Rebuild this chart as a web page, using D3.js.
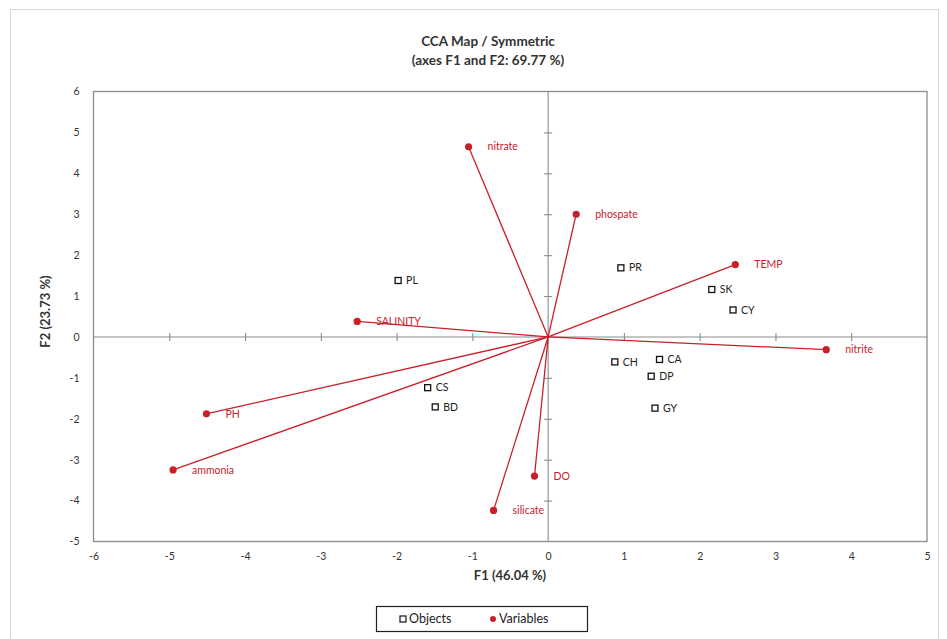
<!DOCTYPE html>
<html>
<head>
<meta charset="utf-8">
<script src="https://cdn.jsdelivr.net/npm/d3@7"></script>
<style>
  html, body { margin: 0; padding: 0; background: #fff; }
  svg { display: block; font-family: Lato, "Open Sans", "Liberation Sans", sans-serif; }
</style>
</head>
<body>
<svg id="chart" width="947" height="639"></svg>
<script>
// Observations (sites) on the first two CCA axes
const objectNames = ["PL", "PR", "SK", "CY", "CH", "CA", "DP", "GY", "CS", "BD"];
const objectF1 = [-1.98, 0.96, 2.16, 2.44, 0.88, 1.47, 1.36, 1.41, -1.59, -1.49];
const objectF2 = [1.38, 1.69, 1.16, 0.66, -0.61, -0.55, -0.96, -1.74, -1.24, -1.71];

// Environmental variables (drawn as vectors from the origin)
const variableNames = ["nitrate", "phospate", "TEMP", "SALINITY", "nitrite", "PH", "ammonia", "DO", "silicate"];
const variableF1 = [-1.05, 0.37, 2.47, -2.52, 3.67, -4.51, -4.95, -0.18, -0.72];
const variableF2 = [4.65, 3.00, 1.77, 0.38, -0.31, -1.88, -3.25, -3.40, -4.24];

const xTicks = [-6, -5, -4, -3, -2, -1, 0, 1, 2, 3, 4, 5];
const yTicks = [-5, -4, -3, -2, -1, 0, 1, 2, 3, 4, 5, 6];

const titleLines = ["CCA Map / Symmetric", "(axes F1 and  F2: 69.77 %)"];
const xTitle = "F1 (46.04 %)";
const yTitle = "F2 (23.73 %)";

const red = "#c8202a";
const axisGray = "#8c8c8c";

const svg = d3.select("#chart");

// outer chart frame
svg.append("rect")
  .attr("x", 10.5).attr("y", 9.5).attr("width", 928).attr("height", 640)
  .attr("fill", "none").attr("stroke", "#d9d9d9").attr("stroke-width", 1);

const plot = { left: 93.5, right: 927, top: 91.5, bottom: 541.5 };

const x = d3.scaleLinear().domain([-6, 5]).range([plot.left, plot.right]);
const y = d3.scaleLinear().domain([-5, 6]).range([plot.bottom, plot.top]);

// plot frame
svg.append("rect")
  .attr("x", plot.left).attr("y", plot.top)
  .attr("width", plot.right - plot.left).attr("height", plot.bottom - plot.top)
  .attr("fill", "none").attr("stroke", axisGray).attr("stroke-width", 1.3);

// tick labels on the frame (axis lines hidden, labels only); plain hyphen for negatives
const plainFormat = d => String(d);
const xAxis = svg.append("g")
  .attr("transform", `translate(0,${plot.bottom})`)
  .call(d3.axisBottom(x).tickValues(xTicks).tickSize(0).tickPadding(11).tickFormat(plainFormat));
const yAxis = svg.append("g")
  .attr("transform", `translate(${plot.left},0)`)
  .call(d3.axisLeft(y).tickValues(yTicks).tickSize(0).tickPadding(14).tickFormat(plainFormat));
[xAxis, yAxis].forEach(g => {
  g.select(".domain").remove();
  g.selectAll("text")
    .attr("fill", "#333")
    .style("font-size", "10.5px")
    .style("font-family", "Lato, 'Open Sans', sans-serif");
});

// zero lines through the origin, with crossing tick marks
const x0 = x(0), y0 = y(0);
svg.append("line")
  .attr("x1", plot.left).attr("x2", plot.right).attr("y1", y0).attr("y2", y0)
  .attr("stroke", axisGray).attr("stroke-width", 1.1);
svg.append("line")
  .attr("x1", x0).attr("x2", x0).attr("y1", plot.top).attr("y2", plot.bottom)
  .attr("stroke", axisGray).attr("stroke-width", 1.1);

const innerX = d3.axisBottom(x).tickValues(xTicks.filter(v => v > -6 && v < 5 && v !== 0))
  .tickSize(8).tickFormat("");
svg.append("g").attr("transform", `translate(0,${y0 - 4})`).call(innerX)
  .call(g => g.select(".domain").remove())
  .selectAll("line").attr("stroke", axisGray).attr("stroke-width", 1.1);

const innerY = d3.axisRight(y).tickValues(yTicks.filter(v => v > -5 && v < 6 && v !== 0))
  .tickSize(8).tickFormat("");
svg.append("g").attr("transform", `translate(${x0 - 4},0)`).call(innerY)
  .call(g => g.select(".domain").remove())
  .selectAll("line").attr("stroke", axisGray).attr("stroke-width", 1.1);

// variable vectors
const variables = variableNames.map((n, i) => ({ name: n, f1: variableF1[i], f2: variableF2[i] }));
const vg = svg.append("g");
vg.selectAll("line.vec").data(variables).join("line")
  .attr("class", "vec")
  .attr("x1", x0).attr("y1", y0)
  .attr("x2", d => x(d.f1)).attr("y2", d => y(d.f2))
  .attr("stroke", red).attr("stroke-width", 1.3);
vg.selectAll("circle").data(variables).join("circle")
  .attr("cx", d => x(d.f1)).attr("cy", d => y(d.f2)).attr("r", 3.6)
  .attr("fill", red);
vg.selectAll("text").data(variables).join("text")
  .attr("x", d => x(d.f1) + 19).attr("y", d => y(d.f2))
  .attr("dy", "0.35em")
  .attr("fill", red)
  .style("font-size", "10.5px")
  .text(d => d.name);

// observation markers
const objects = objectNames.map((n, i) => ({ name: n, f1: objectF1[i], f2: objectF2[i] }));
const og = svg.append("g");
og.selectAll("rect").data(objects).join("rect")
  .attr("x", d => x(d.f1) - 3).attr("y", d => y(d.f2) - 3)
  .attr("width", 6).attr("height", 6)
  .attr("fill", "#fff").attr("stroke", "#111").attr("stroke-width", 1.3);
og.selectAll("text").data(objects).join("text")
  .attr("x", d => x(d.f1) + 8).attr("y", d => y(d.f2))
  .attr("dy", "0.35em")
  .attr("fill", "#222")
  .style("font-size", "10.5px")
  .text(d => d.name);

// titles
const title = svg.append("text")
  .attr("x", 488).attr("y", 46)
  .attr("text-anchor", "middle")
  .attr("font-weight", "bold")
  .attr("fill", "#333")
  .style("font-size", "13.5px");
titleLines.forEach((t, i) => {
  title.append("tspan").attr("x", 488).attr("dy", i === 0 ? 0 : 19).text(t);
});

svg.append("text")
  .attr("x", 510).attr("y", 580)
  .attr("text-anchor", "middle")
  .attr("font-weight", "bold")
  .attr("fill", "#333")
  .style("font-size", "13px")
  .text(xTitle);

svg.append("text")
  .attr("transform", `translate(50,${(plot.top + plot.bottom) / 2 - 5}) rotate(-90)`)
  .attr("text-anchor", "middle")
  .attr("font-weight", "bold")
  .attr("fill", "#333")
  .style("font-size", "13px")
  .text(yTitle);

// legend
const legend = svg.append("g").attr("transform", "translate(376,606)");
legend.append("rect")
  .attr("x", 0.5).attr("y", 0.5).attr("width", 211).attr("height", 25)
  .attr("fill", "#fff").attr("stroke", "#222").attr("stroke-width", 1.2);
legend.append("rect")
  .attr("x", 24).attr("y", 10).attr("width", 6).attr("height", 6)
  .attr("fill", "#fff").attr("stroke", "#111").attr("stroke-width", 1.2);
legend.append("text")
  .attr("x", 33).attr("y", 13).attr("dy", "0.35em")
  .attr("fill", "#222").style("font-size", "12.5px").text("Objects");
legend.append("circle")
  .attr("cx", 117).attr("cy", 13).attr("r", 3).attr("fill", red);
legend.append("text")
  .attr("x", 123).attr("y", 13).attr("dy", "0.35em")
  .attr("fill", "#222").style("font-size", "12.5px").text("Variables");
</script>
</body>
</html>
